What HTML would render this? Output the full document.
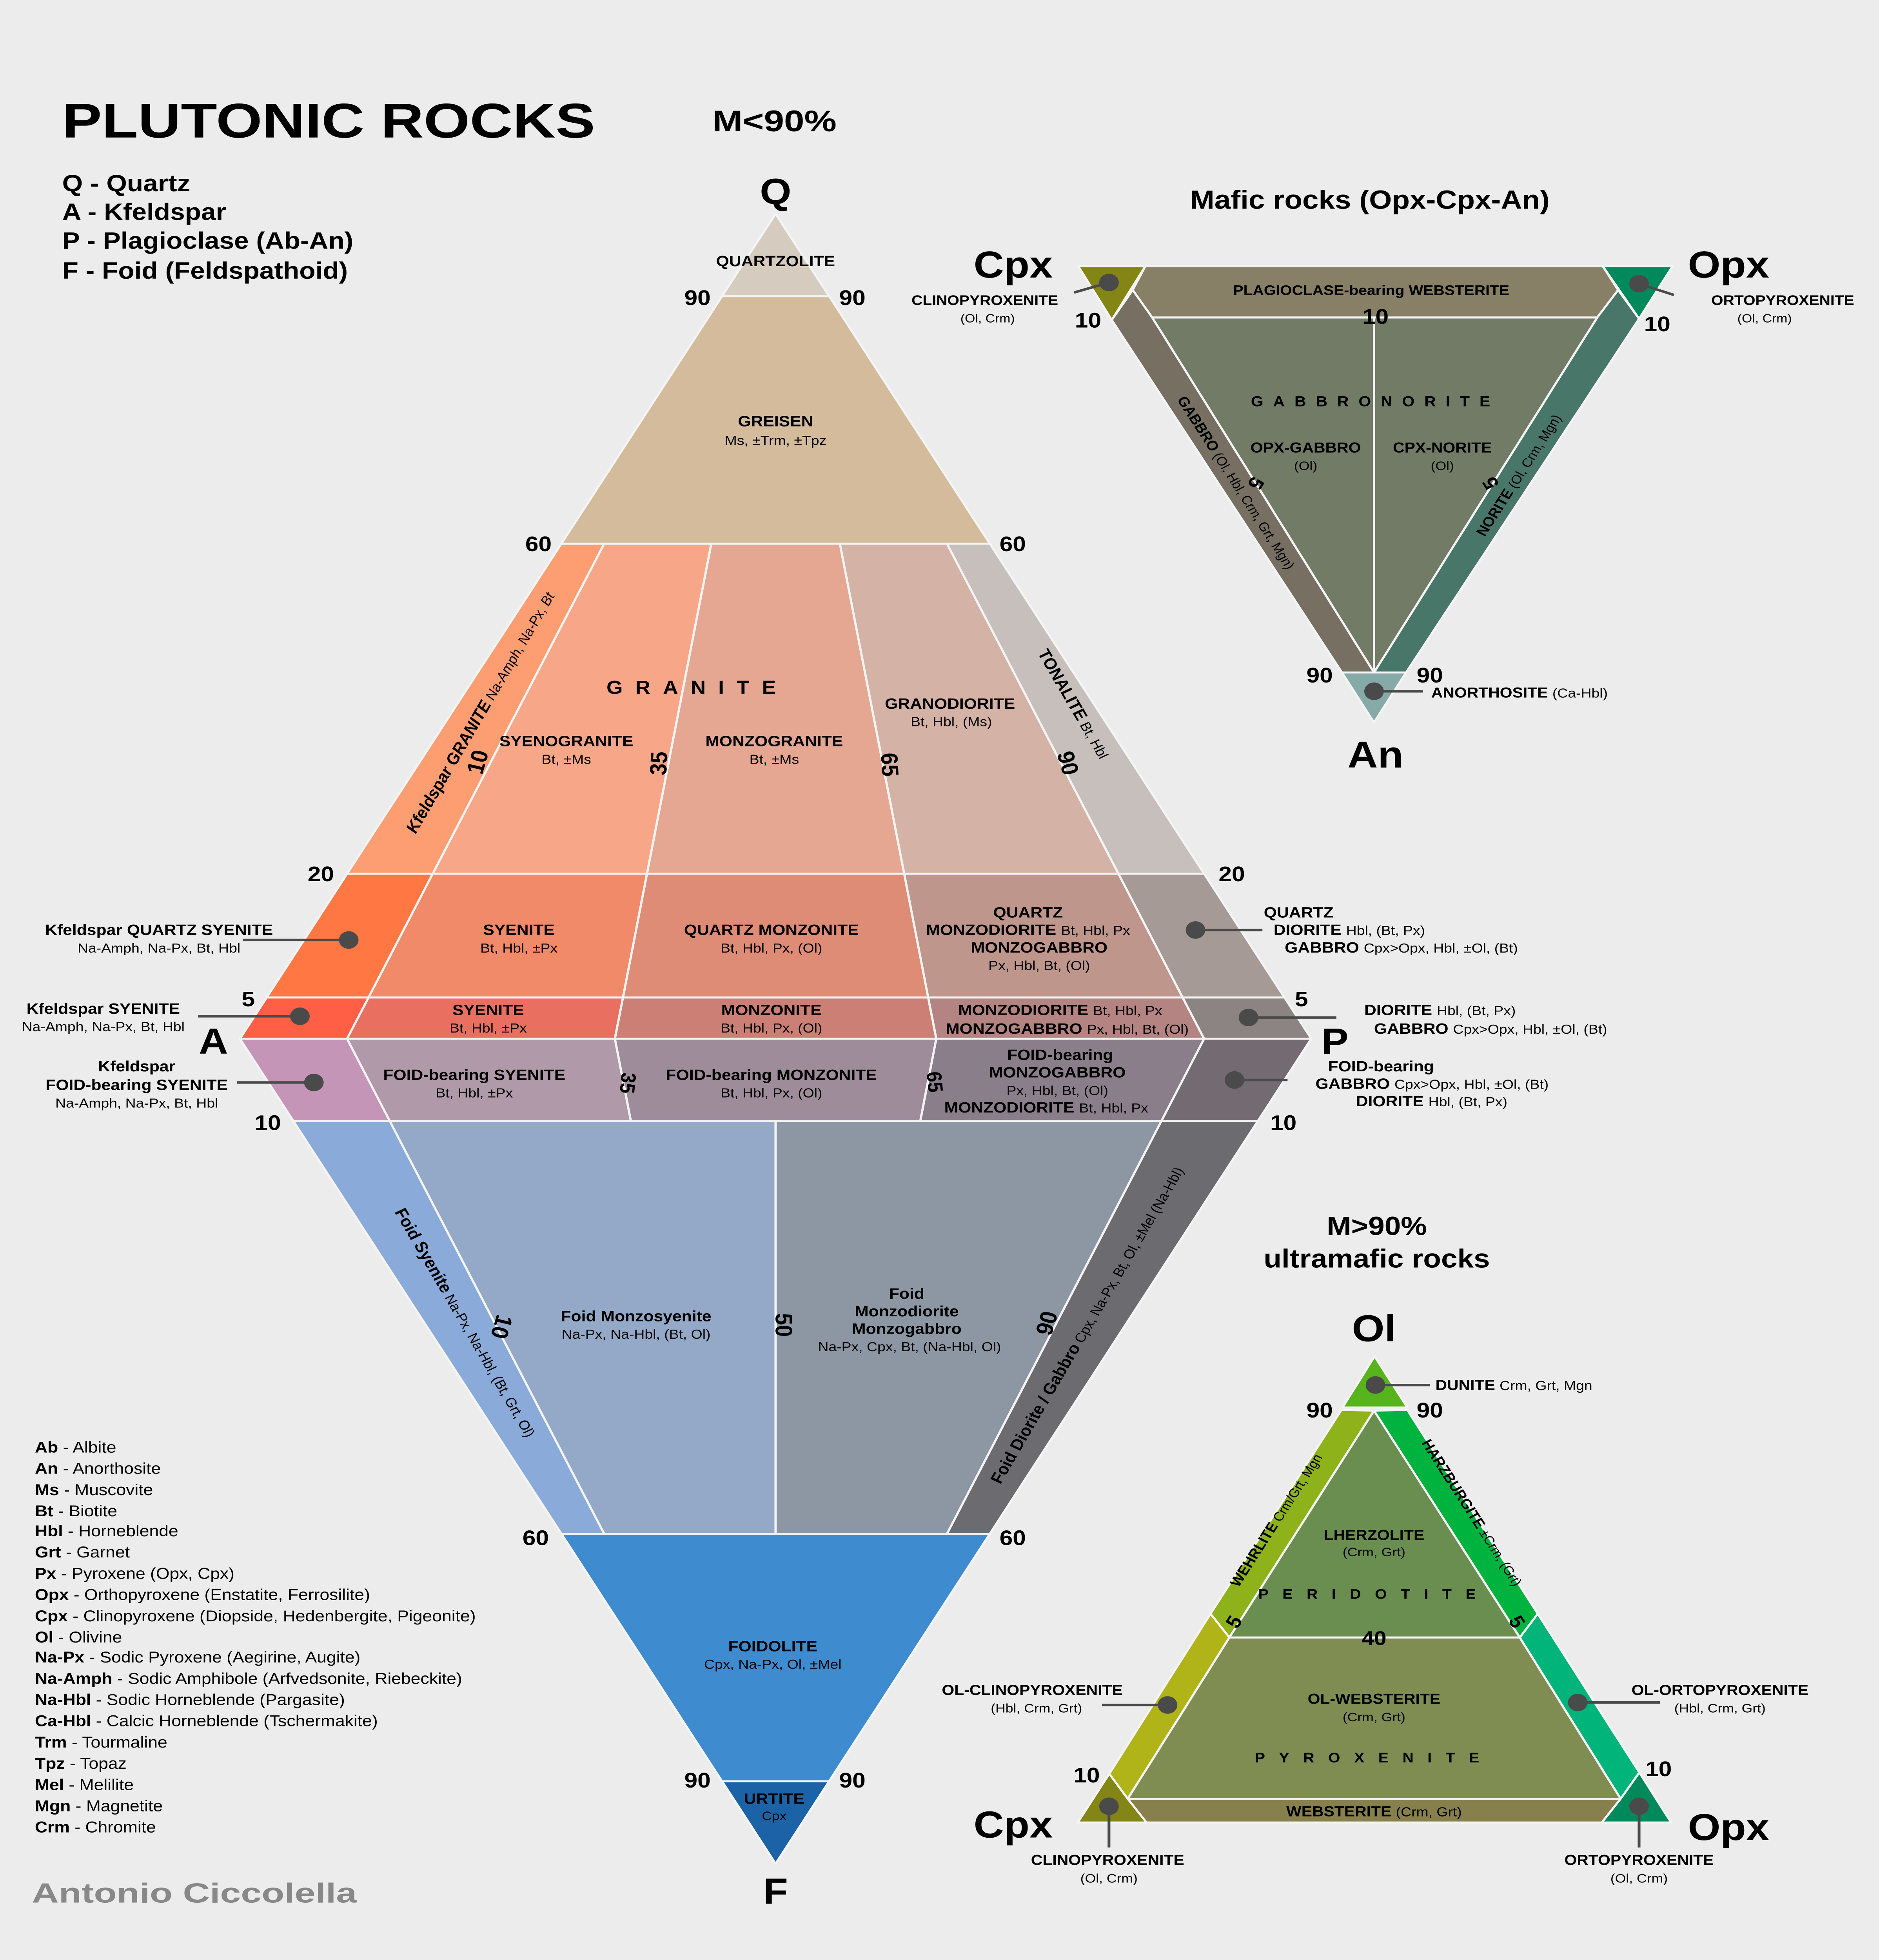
<!DOCTYPE html>
<html><head><meta charset="utf-8"><style>
html,body{margin:0;padding:0;background:#ececec;overflow:hidden;width:100vw;height:100vh;}
svg{display:block;width:100vw;height:100vh;}
text{font-family:"Liberation Sans Narrow","Liberation Sans",sans-serif;fill:#000;}
.b{font-weight:bold;}
.r{font-weight:bold;font-size:12px;text-anchor:middle;}
.s{font-size:10.5px;text-anchor:middle;}
.num{font-weight:bold;font-size:17px;text-anchor:middle;}
.st{text-anchor:start;}
.p polygon{stroke:#f4f4f4;stroke-width:1.6;stroke-linejoin:round;}
.dot{fill:#4a4a4a;}
.ln{stroke:#4a4a4a;stroke-width:2;}
.lg{font-size:12.5px;}
</style></head><body>
<svg viewBox="0 0 1347 1568" preserveAspectRatio="none" xmlns="http://www.w3.org/2000/svg">
<rect width="1347" height="1568" fill="#ececec"/>

<text x="44.6" y="110" class="b" font-size="39" textLength="382" lengthAdjust="spacingAndGlyphs">PLUTONIC ROCKS</text>
<text x="510.7" y="105" class="b" font-size="24" textLength="89" lengthAdjust="spacingAndGlyphs">M&lt;90%</text>
<text x="44.6" y="153" class="b" font-size="19">Q - Quartz</text>
<text x="44.6" y="176" class="b" font-size="19">A - Kfeldspar</text>
<text x="44.6" y="199" class="b" font-size="19">P - Plagioclase (Ab-An)</text>
<text x="44.6" y="223" class="b" font-size="19">F - Foid (Feldspathoid)</text>

<g class="p">
<polygon points="556,171 517.6,237 594.4,237" fill="#d6cbbf"/>
<polygon points="517.6,237 594.4,237 709.6,435 402.4,435" fill="#d3bb9b"/>
<polygon points="402.4,435 433.1,435 310.2,699 248.8,699" fill="#fd9e72"/>
<polygon points="433.1,435 509.9,435 463.8,699 310.2,699" fill="#f7a788"/>
<polygon points="509.9,435 602.1,435 648.2,699 463.8,699" fill="#e5a791"/>
<polygon points="602.1,435 678.9,435 801.8,699 648.2,699" fill="#d4b2a5"/>
<polygon points="678.9,435 709.6,435 863.2,699 801.8,699" fill="#c6bfbb"/>
<polygon points="248.8,699 310.2,699 264.2,798 191.2,798" fill="#ff7843"/>
<polygon points="310.2,699 463.8,699 446.6,798 264.2,798" fill="#f08a68"/>
<polygon points="463.8,699 648.2,699 665.4,798 446.6,798" fill="#df8c76"/>
<polygon points="648.2,699 801.8,699 847.8,798 665.4,798" fill="#bf968c"/>
<polygon points="801.8,699 863.2,699 920.8,798 847.8,798" fill="#a69a96"/>
<polygon points="191.2,798 264.2,798 248.8,831 172,831" fill="#ff5f45"/>
<polygon points="264.2,798 446.6,798 440.8,831 248.8,831" fill="#e97061"/>
<polygon points="446.6,798 665.4,798 671.2,831 440.8,831" fill="#cc8075"/>
<polygon points="665.4,798 847.8,798 863.2,831 671.2,831" fill="#b38481"/>
<polygon points="847.8,798 920.8,798 940,831 863.2,831" fill="#8c8482"/>
<polygon points="172,831 248.8,831 279.5,897 210.4,897" fill="#c595b8"/>
<polygon points="248.8,831 440.8,831 452.3,897 279.5,897" fill="#b099a8"/>
<polygon points="440.8,831 671.2,831 659.7,897 452.3,897" fill="#9e8c9b"/>
<polygon points="671.2,831 863.2,831 832.5,897 659.7,897" fill="#8a7e8a"/>
<polygon points="863.2,831 940,831 901.6,897 832.5,897" fill="#736a72"/>
<polygon points="210.4,897 279.5,897 433.1,1227 402.4,1227" fill="#8aabd9"/>
<polygon points="279.5,897 556,897 556,1227 433.1,1227" fill="#94a9c8"/>
<polygon points="556,897 832.5,897 678.9,1227 556,1227" fill="#8d97a4"/>
<polygon points="832.5,897 901.6,897 709.6,1227 678.9,1227" fill="#6c6c70"/>
<polygon points="402.4,1227 709.6,1227 594.4,1425 517.6,1425" fill="#3f8bcf"/>
<polygon points="517.6,1425 594.4,1425 556,1491" fill="#1b63a6"/>
</g>

<text x="556" y="163" class="b" font-size="29" text-anchor="middle">Q</text>
<text x="153" y="843" class="b" font-size="29" text-anchor="middle">A</text>
<text x="957" y="843" class="b" font-size="29" text-anchor="middle">P</text>
<text x="556" y="1523" class="b" font-size="29" text-anchor="middle">F</text>

<text x="500" y="244" class="num">90</text><text x="611" y="244" class="num">90</text>
<text x="386" y="441" class="num">60</text><text x="726" y="441" class="num">60</text>
<text x="230" y="705" class="num">20</text><text x="883" y="705" class="num">20</text>
<text x="178" y="805" class="num">5</text><text x="933" y="805" class="num">5</text>
<text x="192" y="904" class="num">10</text><text x="920" y="904" class="num">10</text>
<text x="384" y="1236" class="num">60</text><text x="726" y="1236" class="num">60</text>
<text x="500" y="1430" class="num">90</text><text x="611" y="1430" class="num">90</text>

<text x="348" y="611" class="num" transform="rotate(-75 348 611)">10</text>
<text x="478" y="611" class="num" transform="rotate(-87 478 611)">35</text>
<text x="632" y="612" class="num" transform="rotate(87 632 612)">65</text>
<text x="760" y="612" class="num" transform="rotate(75 760 612)">90</text>
<text x="445" y="866" class="num" style="font-size:15px" transform="rotate(95 445 866)">35</text>
<text x="665" y="866" class="num" style="font-size:15px" transform="rotate(85 665 866)">65</text>
<text x="354" y="1060" class="num" transform="rotate(105 354 1060)">10</text>
<text x="556" y="1060" class="num" transform="rotate(90 556 1060)">50</text>
<text x="756" y="1060" class="num" transform="rotate(-75 756 1060)">90</text>

<text x="556" y="213" class="r">QUARTZOLITE</text>
<text x="556" y="341" class="r">GREISEN</text>
<text x="556" y="356" class="s">Ms, ±Trm, ±Tpz</text>
<text x="500" y="555" class="b" font-size="15" text-anchor="middle" letter-spacing="9">GRANITE</text>
<text x="406" y="597" class="r">SYENOGRANITE</text><text x="406" y="611" class="s">Bt, ±Ms</text>
<text x="555" y="597" class="r">MONZOGRANITE</text><text x="555" y="611" class="s">Bt, ±Ms</text>
<text x="681" y="567" class="r">GRANODIORITE</text><text x="682" y="581" class="s">Bt, Hbl, (Ms)</text>
<text x="348" y="572" class="s" transform="rotate(-62.4 348 572)" font-style="italic"><tspan class="b" font-size="12.5">Kfeldspar GRANITE</tspan> Na-Amph, Na-Px, Bt</text>
<text x="766" y="565" class="s" transform="rotate(62.4 766 565)"><tspan class="b" font-size="12.5">TONALITE</tspan> Bt, Hbl</text>

<text x="372" y="748" class="r">SYENITE</text><text x="372" y="762" class="s">Bt, Hbl, ±Px</text>
<text x="553" y="748" class="r">QUARTZ MONZONITE</text><text x="553" y="762" class="s">Bt, Hbl, Px, (Ol)</text>
<text x="737" y="734" class="r">QUARTZ</text>
<text x="737" y="748" class="r">MONZODIORITE <tspan font-weight="normal" font-size="10.5">Bt, Hbl, Px</tspan></text>
<text x="745" y="762" class="r">MONZOGABBRO</text><text x="745" y="776" class="s">Px, Hbl, Bt, (Ol)</text>

<text x="350" y="812" class="r">SYENITE</text><text x="350" y="826" class="s">Bt, Hbl, ±Px</text>
<text x="553" y="812" class="r">MONZONITE</text><text x="553" y="826" class="s">Bt, Hbl, Px, (Ol)</text>
<text x="760" y="812" class="r">MONZODIORITE <tspan font-weight="normal" font-size="10.5">Bt, Hbl, Px</tspan></text>
<text x="765" y="827" class="r">MONZOGABBRO <tspan font-weight="normal" font-size="10.5">Px, Hbl, Bt, (Ol)</tspan></text>

<text x="340" y="864" class="r">FOID-bearing SYENITE</text><text x="340" y="878" class="s">Bt, Hbl, ±Px</text>
<text x="553" y="864" class="r">FOID-bearing MONZONITE</text><text x="553" y="878" class="s">Bt, Hbl, Px, (Ol)</text>
<text x="760" y="848" class="r">FOID-bearing</text>
<text x="758" y="862" class="r">MONZOGABBRO</text>
<text x="758" y="876" class="s">Px, Hbl, Bt, (Ol)</text>
<text x="750" y="890" class="r">MONZODIORITE <tspan font-weight="normal" font-size="10.5">Bt, Hbl, Px</tspan></text>

<text x="456" y="1057" class="r">Foid Monzosyenite</text><text x="456" y="1071" class="s">Na-Px, Na-Hbl, (Bt, Ol)</text>
<text x="650" y="1039" class="r">Foid</text>
<text x="650" y="1053" class="r">Monzodiorite</text>
<text x="650" y="1067" class="r">Monzogabbro</text>
<text x="652" y="1081" class="s">Na-Px, Cpx, Bt, (Na-Hbl, Ol)</text>
<text x="330" y="1060" class="s" transform="rotate(62.4 330 1060)"><tspan class="b" font-size="12.5">Foid Syenite</tspan> Na-Px, Na-Hbl, (Bt, Grt, Ol)</text>
<text x="783" y="1062" class="s" transform="rotate(-62.4 783 1062)"><tspan class="b" font-size="12.5">Foid Diorite / Gabbro</tspan> Cpx, Na-Px, Bt, Ol, ±Mel (Na-Hbl)</text>

<text x="554" y="1321" class="r">FOIDOLITE</text><text x="554" y="1335" class="s">Cpx, Na-Px, Ol, ±Mel</text>
<text x="555" y="1443" class="r">URTITE</text><text x="555" y="1456" class="s" style="font-size:10px">Cpx</text>

<line x1="174" y1="752" x2="250" y2="752" class="ln"/><circle cx="250" cy="752" r="7" class="dot"/>
<text x="114" y="748" class="r">Kfeldspar QUARTZ SYENITE</text><text x="114" y="762" class="s">Na-Amph, Na-Px, Bt, Hbl</text>
<line x1="142" y1="813" x2="215" y2="813" class="ln"/><circle cx="215" cy="813" r="7" class="dot"/>
<text x="74" y="811" class="r">Kfeldspar SYENITE</text><text x="74" y="825" class="s">Na-Amph, Na-Px, Bt, Hbl</text>
<line x1="170" y1="866" x2="225" y2="866" class="ln"/><circle cx="225" cy="866" r="7" class="dot"/>
<text x="98" y="857" class="r">Kfeldspar</text><text x="98" y="872" class="r">FOID-bearing SYENITE</text><text x="98" y="886" class="s">Na-Amph, Na-Px, Bt, Hbl</text>

<line x1="857" y1="744" x2="905" y2="744" class="ln"/><circle cx="857" cy="744" r="7" class="dot"/>
<text x="906" y="734" class="r st">QUARTZ</text>
<text x="913" y="748" class="r st">DIORITE <tspan font-weight="normal" font-size="10.5">Hbl, (Bt, Px)</tspan></text>
<text x="921" y="762" class="r st">GABBRO <tspan font-weight="normal" font-size="10.5">Cpx&gt;Opx, Hbl, ±Ol, (Bt)</tspan></text>
<line x1="895" y1="814" x2="958" y2="814" class="ln"/><circle cx="895" cy="814" r="7" class="dot"/>
<text x="978" y="812" class="r st">DIORITE <tspan font-weight="normal" font-size="10.5">Hbl, (Bt, Px)</tspan></text>
<text x="985" y="827" class="r st">GABBRO <tspan font-weight="normal" font-size="10.5">Cpx&gt;Opx, Hbl, ±Ol, (Bt)</tspan></text>
<line x1="885" y1="864" x2="923" y2="864" class="ln"/><circle cx="885" cy="864" r="7" class="dot"/>
<text x="990" y="857" class="r">FOID-bearing</text>
<text x="943" y="871" class="r st">GABBRO <tspan font-weight="normal" font-size="10.5">Cpx&gt;Opx, Hbl, ±Ol, (Bt)</tspan></text>
<text x="972" y="885" class="r st">DIORITE <tspan font-weight="normal" font-size="10.5">Hbl, (Bt, Px)</tspan></text>

<!-- Mafic -->
<text x="982" y="167" class="b" font-size="21" text-anchor="middle">Mafic rocks (Opx-Cpx-An)</text>
<g class="p">
<polygon points="821,213 1149,213 1160,232 1145,254 826,254 812,232" fill="#877f66"/>
<polygon points="797,256 812,232 826,254 985,538 962,538" fill="#766f62"/>
<polygon points="1175,255 1160,232 1145,254 985,538 1008,538" fill="#487668"/>
<polygon points="826,254 1145,254 985,538" fill="#717b66"/>
<polygon points="773,213 821,213 797,256" fill="#838515"/>
<polygon points="1149,213 1199,213 1175,255" fill="#00895a"/>
<polygon points="962,538 1008,538 985,578" fill="#85aaa8"/>
</g>
<line x1="985" y1="254" x2="985" y2="538" stroke="#f4f4f4" stroke-width="1.6"/>
<text x="698" y="222" class="b" font-size="30">Cpx</text>
<text x="1210" y="222" class="b" font-size="30">Opx</text>
<line x1="770" y1="234" x2="795" y2="226" class="ln"/><circle cx="795" cy="226" r="7" class="dot"/>
<text x="706" y="244" class="r" style="font-size:11px">CLINOPYROXENITE</text><text x="708" y="258" class="s" style="font-size:9.5px">(Ol, Crm)</text>
<line x1="1175" y1="227" x2="1200" y2="236" class="ln"/><circle cx="1175" cy="227" r="7" class="dot"/>
<text x="1278" y="244" class="r" style="font-size:11px">ORTOPYROXENITE</text><text x="1265" y="258" class="s" style="font-size:9.5px">(Ol, Crm)</text>
<text x="983" y="236" class="r" style="font-size:11px">PLAGIOCLASE-bearing WEBSTERITE</text>
<text x="780" y="262" class="num">10</text><text x="986" y="259" class="num">10</text><text x="1188" y="265" class="num">10</text>
<text x="986" y="325" class="b" font-size="11.5" text-anchor="middle" letter-spacing="7">GABBRONORITE</text>
<text x="936" y="362" class="r" style="font-size:11.5px">OPX-GABBRO</text><text x="936" y="376" class="s" style="font-size:10px">(Ol)</text>
<text x="1034" y="362" class="r" style="font-size:11.5px">CPX-NORITE</text><text x="1034" y="376" class="s" style="font-size:10px">(Ol)</text>
<text x="883" y="388" class="s" style="font-size:10px" transform="rotate(60 883 388)"><tspan class="b" font-size="11">GABBRO</tspan> (Ol, Hbl, Crm, Grt, Mgn)</text>
<text x="1092" y="382" class="s" style="font-size:10px" transform="rotate(-60 1092 382)"><tspan class="b" font-size="11">NORITE</tspan> (Ol, Crm, Mgn)</text>
<text x="896" y="384" class="num" style="font-size:15px" transform="rotate(120 896 384)">5</text>
<text x="1073" y="384" class="num" style="font-size:15px" transform="rotate(-120 1073 384)">5</text>
<text x="946" y="546" class="num">90</text><text x="1025" y="546" class="num">90</text>
<line x1="985" y1="553" x2="1020" y2="553" class="ln"/><circle cx="985" cy="553" r="7" class="dot"/>
<text x="1026" y="558" class="r st" style="font-size:11.5px">ANORTHOSITE <tspan font-weight="normal" font-size="10.5">(Ca-Hbl)</tspan></text>
<text x="986" y="614" class="b" font-size="30" text-anchor="middle">An</text>

<!-- Ultramafic -->
<text x="987" y="988" class="b" font-size="21" text-anchor="middle">M&gt;90%</text>
<text x="987" y="1014" class="b" font-size="21" text-anchor="middle">ultramafic rocks</text>
<text x="985" y="1073" class="b" font-size="30" text-anchor="middle">Ol</text>
<g class="p">
<polygon points="985.4,1085 962.4,1126 1008.9,1126" fill="#58b41c"/>
<polygon points="961.6,1128 985,1128.5 881.3,1310 867.8,1291" fill="#8db21a"/>
<polygon points="1008.9,1128 985,1128.5 1089.5,1310 1102.4,1291" fill="#00b33e"/>
<polygon points="985,1128.5 1089.5,1310 881.3,1310" fill="#6a8e50"/>
<polygon points="881.3,1310 1089.5,1310 1161.8,1439 808.4,1439" fill="#7f8c52"/>
<polygon points="867.8,1291 881.3,1310 808.4,1439 795.2,1419" fill="#b0b418"/>
<polygon points="1102.4,1291 1089.5,1310 1161.8,1439 1175.2,1418" fill="#00b47a"/>
<polygon points="808.4,1439 1161.8,1439 1148.3,1458 821.9,1458" fill="#877f4c"/>
<polygon points="772.6,1458 821.9,1458 808.4,1439 795.2,1419" fill="#838515"/>
<polygon points="1148.3,1458 1198,1458 1175.2,1418 1161.8,1439" fill="#008a5c"/>
</g>
<line x1="986" y1="1108" x2="1025" y2="1108" class="ln"/><circle cx="986" cy="1108" r="7" class="dot"/>
<text x="1029" y="1112" class="r st" style="font-size:11.5px">DUNITE <tspan font-weight="normal" font-size="10.5">Crm, Grt, Mgn</tspan></text>
<text x="946" y="1134" class="num">90</text><text x="1025" y="1134" class="num">90</text>
<text x="918" y="1218" class="s" style="font-size:10px" transform="rotate(-60 918 1218)"><tspan class="b" font-size="11">WEHRLITE</tspan> Crm/Grt, Mgn</text>
<text x="1052" y="1212" class="s" style="font-size:10px" transform="rotate(60 1052 1212)"><tspan class="b" font-size="11">HARZBURGITE</tspan> ±Crm, (Grt)</text>
<text x="985" y="1232" class="r" style="font-size:11.5px">LHERZOLITE</text><text x="985" y="1245" class="s" style="font-size:10px">(Crm, Grt)</text>
<text x="985" y="1279" class="b" font-size="11" text-anchor="middle" letter-spacing="10">PERIDOTITE</text>
<text x="889" y="1300" class="num" style="font-size:15px" transform="rotate(-60 889 1300)">5</text>
<text x="1083" y="1300" class="num" style="font-size:15px" transform="rotate(60 1083 1300)">5</text>
<text x="985" y="1316" class="num" style="font-size:16px">40</text>
<text x="985" y="1363" class="r" style="font-size:11.5px">OL-WEBSTERITE</text><text x="985" y="1377" class="s" style="font-size:10px">(Crm, Grt)</text>
<text x="985" y="1410" class="b" font-size="11" text-anchor="middle" letter-spacing="10">PYROXENITE</text>
<line x1="790" y1="1364" x2="837" y2="1364" class="ln"/><circle cx="837" cy="1364" r="7" class="dot"/>
<text x="740" y="1356" class="r" style="font-size:11.5px">OL-CLINOPYROXENITE</text><text x="743" y="1370" class="s" style="font-size:10px">(Hbl, Crm, Grt)</text>
<line x1="1131" y1="1362" x2="1190" y2="1362" class="ln"/><circle cx="1131" cy="1362" r="7" class="dot"/>
<text x="1233" y="1356" class="r" style="font-size:11.5px">OL-ORTOPYROXENITE</text><text x="1233" y="1370" class="s" style="font-size:10px">(Hbl, Crm, Grt)</text>
<text x="779" y="1426" class="num">10</text><text x="1189" y="1421" class="num">10</text>
<text x="985" y="1453" class="r" style="font-size:11.5px">WEBSTERITE <tspan font-weight="normal" font-size="10.5">(Crm, Grt)</tspan></text>
<text x="698" y="1470" class="b" font-size="30">Cpx</text>
<text x="1210" y="1472" class="b" font-size="30">Opx</text>
<line x1="795" y1="1445" x2="795" y2="1478" class="ln"/><circle cx="795" cy="1445" r="7" class="dot"/>
<line x1="1175" y1="1445" x2="1175" y2="1478" class="ln"/><circle cx="1175" cy="1445" r="7" class="dot"/>
<text x="794" y="1492" class="r" style="font-size:11.5px">CLINOPYROXENITE</text><text x="795" y="1506" class="s" style="font-size:10px">(Ol, Crm)</text>
<text x="1175" y="1492" class="r" style="font-size:11.5px">ORTOPYROXENITE</text><text x="1175" y="1506" class="s" style="font-size:10px">(Ol, Crm)</text>

<g class="lg">
<text x="25" y="1162"><tspan class="b">Ab</tspan> - Albite</text>
<text x="25" y="1179"><tspan class="b">An</tspan> - Anorthosite</text>
<text x="25" y="1196"><tspan class="b">Ms</tspan> - Muscovite</text>
<text x="25" y="1213"><tspan class="b">Bt</tspan> - Biotite</text>
<text x="25" y="1229"><tspan class="b">Hbl</tspan> - Horneblende</text>
<text x="25" y="1246"><tspan class="b">Grt</tspan> - Garnet</text>
<text x="25" y="1263"><tspan class="b">Px</tspan> - Pyroxene (Opx, Cpx)</text>
<text x="25" y="1280"><tspan class="b">Opx</tspan> - Orthopyroxene (Enstatite, Ferrosilite)</text>
<text x="25" y="1297"><tspan class="b">Cpx</tspan> - Clinopyroxene (Diopside, Hedenbergite, Pigeonite)</text>
<text x="25" y="1314"><tspan class="b">Ol</tspan> - Olivine</text>
<text x="25" y="1330"><tspan class="b">Na-Px</tspan> - Sodic Pyroxene (Aegirine, Augite)</text>
<text x="25" y="1347"><tspan class="b">Na-Amph</tspan> - Sodic Amphibole (Arfvedsonite, Riebeckite)</text>
<text x="25" y="1364"><tspan class="b">Na-Hbl</tspan> - Sodic Horneblende (Pargasite)</text>
<text x="25" y="1381"><tspan class="b">Ca-Hbl</tspan> - Calcic Horneblende (Tschermakite)</text>
<text x="25" y="1398"><tspan class="b">Trm</tspan> - Tourmaline</text>
<text x="25" y="1415"><tspan class="b">Tpz</tspan> - Topaz</text>
<text x="25" y="1432"><tspan class="b">Mel</tspan> - Melilite</text>
<text x="25" y="1449"><tspan class="b">Mgn</tspan> - Magnetite</text>
<text x="25" y="1466"><tspan class="b">Crm</tspan> - Chromite</text>
</g>
<text x="22.8" y="1522" class="b" font-size="22" style="fill:#888" textLength="233" lengthAdjust="spacingAndGlyphs">Antonio Ciccolella</text>
</svg>
</body></html>
